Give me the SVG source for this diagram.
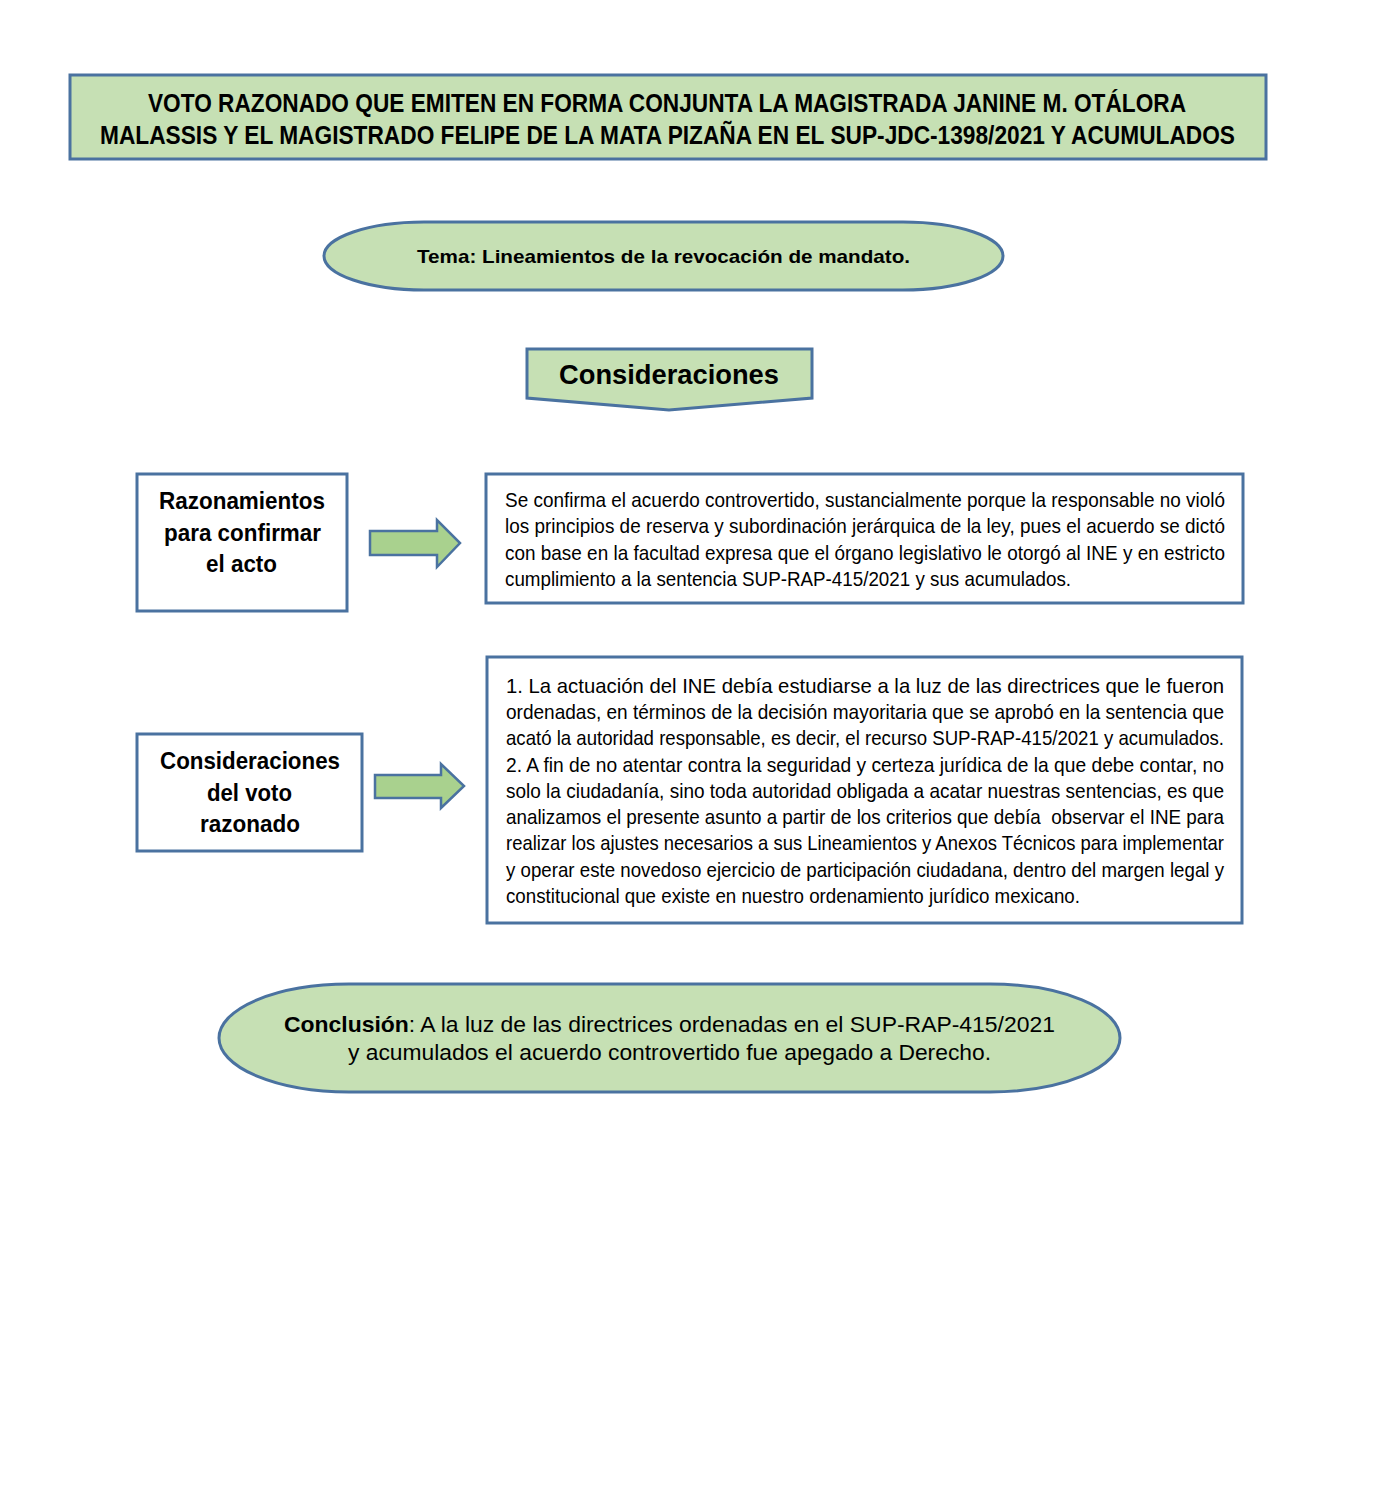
<svg xmlns="http://www.w3.org/2000/svg" width="1376" height="1508" viewBox="0 0 1376 1508">
<style>
.shape{stroke:#4A72A0;stroke-width:3}
.green{fill:#C6E0B4}
.white{fill:#FFFFFF}
.arrow{fill:#A9D18E;stroke:#4A72A0;stroke-width:2.5}
.t{font-family:'Liberation Sans Narrow','Liberation Sans',Arial,sans-serif;fill:#000}
.b{font-weight:bold}
.body{font-size:21px}
</style>
<rect width="1376" height="1508" fill="#FFFFFF"/>
<g id="title">
<rect class="shape green" x="70" y="75" width="1196" height="84"/>
<text class="t b" font-size="25" x="148" y="112" textLength="1038" lengthAdjust="spacingAndGlyphs">VOTO RAZONADO QUE EMITEN EN FORMA CONJUNTA LA MAGISTRADA JANINE M. OTÁLORA</text>
<text class="t b" font-size="25" x="100" y="144" textLength="1135" lengthAdjust="spacingAndGlyphs">MALASSIS Y EL MAGISTRADO FELIPE DE LA MATA PIZAÑA EN EL SUP-JDC-1398/2021 Y ACUMULADOS</text>
</g>
<g id="tema">
<rect class="shape green" x="324" y="222" width="679" height="68" rx="100" ry="34" stroke-width="2.5"/>
<text class="t b" font-size="19" x="417" y="263" textLength="493" lengthAdjust="spacingAndGlyphs">Tema: Lineamientos de la revocación de mandato.</text>
</g>
<g id="consideraciones">
<path class="shape green" stroke-width="2.5" d="M527,349 L812,349 L812,398 L669,410 L527,398 Z"/>
<text class="t b" font-size="27" x="559" y="384" textLength="220" lengthAdjust="spacingAndGlyphs">Consideraciones</text>
</g>
<g id="razonamientos">
<rect class="shape white" x="137" y="474" width="210" height="137"/>
<text class="t b" font-size="24" x="159" y="509" textLength="166" lengthAdjust="spacingAndGlyphs">Razonamientos</text>
<text class="t b" font-size="24" x="164" y="541" textLength="157" lengthAdjust="spacingAndGlyphs">para confirmar</text>
<text class="t b" font-size="24" x="206" y="572" textLength="71" lengthAdjust="spacingAndGlyphs">el acto</text>
</g>
<g id="confirma">
<rect class="shape white" x="486" y="474" width="757" height="129"/>
<text class="t body" x="505" y="507" textLength="720" lengthAdjust="spacingAndGlyphs">Se confirma el acuerdo controvertido, sustancialmente porque la responsable no violó</text>
<text class="t body" x="505" y="533" textLength="720" lengthAdjust="spacingAndGlyphs">los principios de reserva y subordinación jerárquica de la ley, pues el acuerdo se dictó</text>
<text class="t body" x="505" y="560" textLength="720" lengthAdjust="spacingAndGlyphs">con base en la facultad expresa que el órgano legislativo le otorgó al INE y en estricto</text>
<text class="t body" x="505" y="586" textLength="566" lengthAdjust="spacingAndGlyphs">cumplimiento a la sentencia SUP-RAP-415/2021 y sus acumulados.</text>
</g>
<g id="consvoto">
<rect class="shape white" x="137" y="734" width="225" height="117"/>
<text class="t b" font-size="24" x="160" y="769" textLength="180" lengthAdjust="spacingAndGlyphs">Consideraciones</text>
<text class="t b" font-size="24" x="207" y="801" textLength="85" lengthAdjust="spacingAndGlyphs">del voto</text>
<text class="t b" font-size="24" x="200" y="832" textLength="100" lengthAdjust="spacingAndGlyphs">razonado</text>
</g>
<g id="detalle">
<rect class="shape white" x="487" y="657" width="755" height="266"/>
<text class="t body" x="506" y="693" textLength="718" lengthAdjust="spacingAndGlyphs">1. La actuación del INE debía estudiarse a la luz de las directrices que le fueron</text>
<text class="t body" x="506" y="719" textLength="718" lengthAdjust="spacingAndGlyphs">ordenadas, en términos de la decisión mayoritaria que se aprobó en la sentencia que</text>
<text class="t body" x="506" y="745" textLength="718" lengthAdjust="spacingAndGlyphs">acató la autoridad responsable, es decir, el recurso SUP-RAP-415/2021 y acumulados.</text>
<text class="t body" x="506" y="772" textLength="718" lengthAdjust="spacingAndGlyphs">2. A fin de no atentar contra la seguridad y certeza jurídica de la que debe contar, no</text>
<text class="t body" x="506" y="798" textLength="718" lengthAdjust="spacingAndGlyphs">solo la ciudadanía, sino toda autoridad obligada a acatar nuestras sentencias, es que</text>
<text class="t body" x="506" y="824" textLength="718" lengthAdjust="spacingAndGlyphs" xml:space="preserve">analizamos el presente asunto a partir de los criterios que debía  observar el INE para</text>
<text class="t body" x="506" y="850" textLength="718" lengthAdjust="spacingAndGlyphs">realizar los ajustes necesarios a sus Lineamientos y Anexos Técnicos para implementar</text>
<text class="t body" x="506" y="877" textLength="718" lengthAdjust="spacingAndGlyphs">y operar este novedoso ejercicio de participación ciudadana, dentro del margen legal y</text>
<text class="t body" x="506" y="903" textLength="574" lengthAdjust="spacingAndGlyphs">constitucional que existe en nuestro ordenamiento jurídico mexicano.</text>
</g>
<g id="conclusion">
<rect class="shape green" x="219" y="984" width="901" height="108" rx="130" ry="54" stroke-width="2.5"/>
<text class="t" font-size="22" x="284" y="1032" textLength="771" lengthAdjust="spacingAndGlyphs"><tspan class="b">Conclusión</tspan>: A la luz de las directrices ordenadas en el SUP-RAP-415/2021</text>
<text class="t" font-size="22" x="348" y="1060" textLength="643" lengthAdjust="spacingAndGlyphs">y acumulados el acuerdo controvertido fue apegado a Derecho.</text>
</g>
<g id="connectors">
<path class="arrow" d="M370,531 L437,531 L437,520 L460,543 L437,567 L437,555 L370,555 Z"/>
<path class="arrow" d="M375,775 L441,775 L441,764 L464,786 L441,808 L441,798 L375,798 Z"/>
</g>
</svg>
